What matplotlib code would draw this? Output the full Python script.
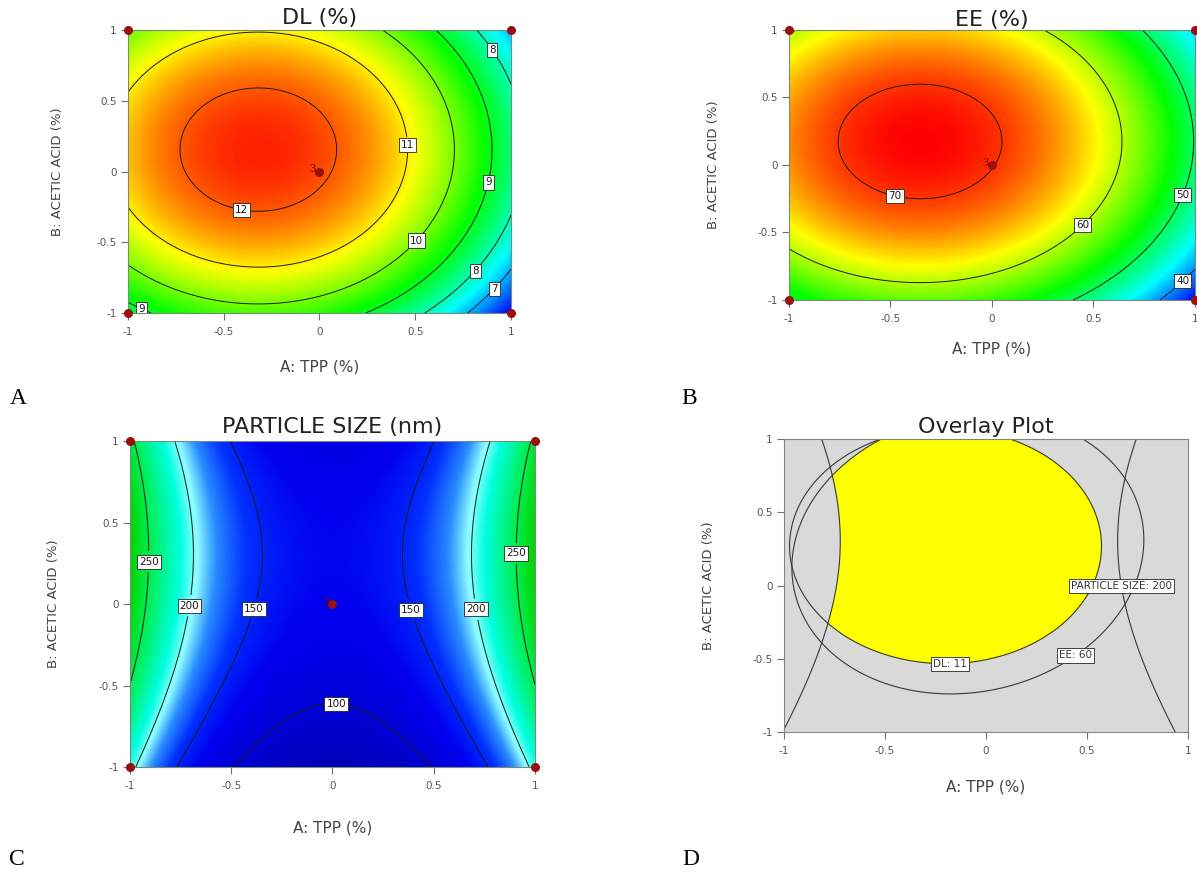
import numpy as np
import matplotlib
matplotlib.use("Agg")
import matplotlib.pyplot as plt
from matplotlib.colors import LinearSegmentedColormap

# design points in coded units (4 corners + centre point, run 3 times)
design_a = [-1, 1, -1, 1, 0]
design_b = [-1, -1, 1, 1, 0]
centre_runs = 3

# quadratic models: b0, A, B, AB, A^2, B^2
dl_coef = [12.10, -1.45, 0.62, 0.0, -2.27, -2.00]
ee_coef = [70.12, -8.57, 3.81, 0.0, -12.10, -10.95]
ps_coef = [129.4, 0.0, 23.95, 0.0, 142.0, -39.5]

dl_levels = [7, 8, 9, 10, 11, 12]
ee_levels = [40, 50, 60, 70]
ps_levels = [100, 150, 200, 250]

# overlay plot (panel D) as drawn
ov_dl_coef = [12.11, -0.91, 1.13, 0.0, -2.27, -2.10]
ov_ee_coef = [68.48, -2.65, 4.55, 2.18, -12.10, -10.03]
ov_ps_coef = [129.6, 9.94, 23.95, 0.0, 142.0, -39.5]
ov_names = ["DL", "EE", "PARTICLE SIZE"]
ov_limits = [11, 60, 200]

tick_vals = [-1, -0.5, 0, 0.5, 1]
tick_text = ["-1", "-0.5", "0", "0.5", "1"]

g = np.linspace(-1, 1, 301)
A, B = np.meshgrid(g, g)


def surface(coef, a, b):
    b0, ba, bb, bab, baa, bbb = coef
    return b0 + ba * a + bb * b + bab * a * b + baa * a ** 2 + bbb * b ** 2


de_cmap = LinearSegmentedColormap.from_list(
    "de", ["#0000ff", "#00ffff", "#00ff00", "#ffff00", "#ff0000"])
# particle size map: value stops -> colours
ps_stops = [60, 130, 158, 180, 197, 214, 245, 275]
ps_colors = ["#0000b4", "#0000f0", "#0030ff", "#2a8cff", "#90ffff",
             "#00ffe0", "#00f060", "#00d800"]
ps_cmap = LinearSegmentedColormap.from_list(
    "ps", [((v - ps_stops[0]) / (ps_stops[-1] - ps_stops[0]), c)
           for v, c in zip(ps_stops, ps_colors)])

fig = plt.figure(figsize=(11.97, 8.81), dpi=100)
ax_a = fig.add_axes([0.1069, 0.6447, 0.3200, 0.3212])
ax_b = fig.add_axes([0.6591, 0.6595, 0.3392, 0.3065])
ax_c = fig.add_axes([0.1086, 0.1294, 0.3383, 0.3700])
ax_d = fig.add_axes([0.6550, 0.1691, 0.3375, 0.3326])


def style_axes(ax, title, xl_y, yl_x, t_y):
    ax.set_xlim(-1, 1)
    ax.set_ylim(-1, 1)
    ax.set_xticks(tick_vals)
    ax.set_xticklabels(tick_text)
    ax.set_yticks(tick_vals)
    ax.set_yticklabels(tick_text)
    ax.tick_params(direction="out", length=5, width=0.8, colors="#707070",
                   labelsize=7.5, labelcolor="#555555")
    ax.tick_params(axis="x", pad=5)
    ax.tick_params(axis="y", pad=3)
    for s in ax.spines.values():
        s.set_color("#7a8a7a")
        s.set_linewidth(0.8)
    ax.set_xlabel("A: TPP (%)", fontsize=11, color="#444444", va="center")
    ax.xaxis.set_label_coords(0.5, xl_y)
    ax.set_ylabel("B: ACETIC ACID (%)", fontsize=9.5, color="#444444", va="center")
    ax.yaxis.set_label_coords(yl_x, 0.5)
    ax.text(0.5, 1 + t_y, title, transform=ax.transAxes, ha="center",
            va="center", fontsize=16, color="#222222")


def box_labels(cs):
    for t in cs.labelTexts:
        t.set_rotation(0)
        t.set_bbox(dict(boxstyle="square,pad=0.2", fc="white", ec="#222222", lw=0.6))


def heat_panel(ax, z, cmap, vmin, vmax, levels, label_pos):
    ax.imshow(z, extent=[-1, 1, -1, 1], origin="lower", aspect="auto",
              cmap=cmap, vmin=vmin, vmax=vmax, interpolation="bilinear")
    # one contour set per level, so each can get labels at chosen spots
    for lev in levels:
        cs = ax.contour(A, B, z, levels=[lev], colors="#1a1a1a", linewidths=0.7)
        if lev in label_pos:
            ax.clabel(cs, manual=label_pos[lev], fmt="%d", fontsize=7.5,
                      inline=True, inline_spacing=1)
            box_labels(cs)
    ax.plot(design_a, design_b, "o", color="#9a1010", ms=5.5, clip_on=False, zorder=6)
    ax.annotate(str(centre_runs), (0, 0), xytext=(-2.5, 1.5), textcoords="offset points",
                ha="right", va="center", color="#7a0000", fontsize=9,
                family="Liberation Serif", zorder=6)


heat_panel(ax_a, surface(dl_coef, A, B), de_cmap, 5.8, 12.6, dl_levels,
           {12: [(-0.40, -0.22)], 11: [(0.46, 0.19)], 10: [(0.51, -0.49)],
            9: [(0.89, -0.08), (-0.91, -0.91)], 8: [(0.9, 0.86), (0.82, -0.71)],
            7: [(0.92, -0.84)]})
style_axes(ax_a, "DL (%)", -0.191, -0.185, 0.042)

heat_panel(ax_b, surface(ee_coef, A, B), de_cmap, 34.7, 72.0, ee_levels,
           {70: [(-0.47, -0.18)], 60: [(0.45, -0.45)], 50: [(0.95, -0.23)],
            40: [(0.95, -0.88)]})
style_axes(ax_b, "EE (%)", -0.181, -0.187, 0.037)

heat_panel(ax_c, surface(ps_coef, A, B), ps_cmap, ps_stops[0], ps_stops[-1], ps_levels,
           {250: [(-0.90, 0.26), (0.906, 0.31)], 200: [(-0.705, -0.01), (0.72, -0.03)],
            150: [(-0.39, -0.03), (0.40, -0.03)], 100: [(0.02, -0.57)]})
style_axes(ax_c, "PARTICLE SIZE (nm)", -0.187, -0.19, 0.043)

# overlay plot
ax_d.set_facecolor("#d9d9d9")
ov_z = [surface(c, A, B) for c in (ov_dl_coef, ov_ee_coef, ov_ps_coef)]
margin = np.minimum(np.minimum(ov_z[0] - ov_limits[0], (ov_z[1] - ov_limits[1]) / 10.0),
                    (ov_limits[2] - ov_z[2]) / 50.0)
ax_d.contourf(A, B, margin, levels=[0, 1e6], colors=["#ffff00"])
ov_pos = [(-0.18, -0.49), (0.44, -0.47), (0.64, -0.01)]
for z, name, lim, pos in zip(ov_z, ov_names, ov_limits, ov_pos):
    cs = ax_d.contour(A, B, z, levels=[lim], colors="#383838", linewidths=0.8)
    ax_d.clabel(cs, manual=[pos], fmt={lim: "%s: %d" % (name, lim)}, fontsize=7.5,
                inline=False)
    box_labels(cs)
style_axes(ax_d, "Overlay Plot", -0.188, -0.186, 0.041)

for x, y, s in [(0.015, 0.548, "A"), (0.576, 0.548, "B"),
                (0.014, 0.024, "C"), (0.577, 0.024, "D")]:
    fig.text(x, y, s, fontsize=17, family="Liberation Serif", ha="center", va="center")

fig.savefig("out.png", dpi=100)
